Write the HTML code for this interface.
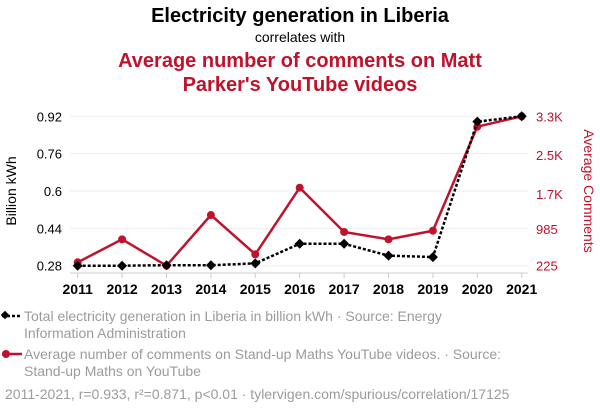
<!DOCTYPE html>
<html><head><meta charset="utf-8"><style>
body{margin:0;background:#fff;width:600px;height:414px;overflow:hidden;font-family:"Liberation Sans",sans-serif}
</style></head><body>
<svg id="chart" width="600" height="414" xmlns="http://www.w3.org/2000/svg" font-family="Liberation Sans, sans-serif">
<text x="300" y="22" text-anchor="middle" font-size="20" font-weight="bold" fill="#000">Electricity generation in Liberia</text>
<text x="300" y="42" text-anchor="middle" font-size="14" fill="#000">correlates with</text>
<text x="300" y="67" text-anchor="middle" font-size="20" font-weight="bold" fill="#c0122c">Average number of comments on Matt</text>
<text x="300" y="91" text-anchor="middle" font-size="20" font-weight="bold" fill="#c0122c">Parker's YouTube videos</text>
<g id="grid"></g><g id="axes"></g><g id="series"></g>
<text transform="translate(16,191) rotate(-90)" text-anchor="middle" font-size="14" fill="#000">Billion kWh</text>
<text transform="translate(584,191) rotate(90)" text-anchor="middle" font-size="14" fill="#c0122c">Average Comments</text>
<g>
<line x1="2" y1="316" x2="22" y2="316" stroke="#000" stroke-width="2.5" stroke-dasharray="3,2"/>
<rect x="2" y="312" width="6" height="6" transform="rotate(45 5 315)" fill="#000"/>
<text x="24" y="321" font-size="14" fill="#9b9b9b">Total electricity generation in Liberia in billion kWh · Source: Energy</text>
<text x="24" y="338" font-size="14" fill="#9b9b9b">Information Administration</text></g>
<g>
<line x1="2" y1="354" x2="22" y2="354" stroke="#c0122c" stroke-width="2.5"/>
<circle cx="6" cy="354" r="4" fill="#c0122c"/>
<text x="24" y="359" font-size="14" fill="#9b9b9b">Average number of comments on Stand-up Maths YouTube videos. · Source:</text>
<text x="24" y="376" font-size="14" fill="#9b9b9b">Stand-up Maths on YouTube</text></g>
<text x="5" y="399" font-size="14" fill="#9b9b9b">2011-2021, r=0.933, r²=0.871, p&lt;0.01 · tylervigen.com/spurious/correlation/17125</text>
</svg>
<script>
const years=[2011,2012,2013,2014,2015,2016,2017,2018,2019,2020,2021];
const electricity=[0.28,0.28,0.282,0.282,0.29,0.374,0.374,0.323,0.317,0.897,0.92];
const comments=[295,768,225,1268,460,1830,919,768,945,3086,3300];
const leftTicks=[0.28,0.44,0.6,0.76,0.92];
const leftTickLabels=["0.28","0.44","0.6","0.76","0.92"];
const rightTicks=[225,985,1700,2500,3300];
const rightTickLabels=["225","985","1.7K","2.5K","3.3K"];
const NS="http://www.w3.org/2000/svg";
const x=y=>77.7+(y-2011)*44.4;
const yl=v=>265.7-(v-0.28)/(0.92-0.28)*149.4;
const yr=v=>265.7-(v-225)/(3300-225)*149.4;
function mk(tag,attrs,parent){const e=document.createElementNS(NS,tag);for(const k in attrs)e.setAttribute(k,attrs[k]);parent.appendChild(e);return e;}
const grid=document.getElementById('grid'),axes=document.getElementById('axes'),ser=document.getElementById('series');
leftTicks.forEach((t,i)=>{
 const g=mk('line',{x1:70,x2:528,y1:yl(t),y2:yl(t),stroke:'#eee','stroke-width':1},grid);
 
 
 const tx=mk('text',{x:62,y:yl(t)+5,'text-anchor':'end','font-size':13,fill:'#000'},axes);
 tx.textContent=leftTickLabels[i];
 
 
});
rightTicks.forEach((t,i)=>{
 const tx=mk('text',{x:536,y:yr(t)+5,'font-size':13,fill:'#c0122c'},axes);
 tx.textContent=rightTickLabels[i];
 
 
});
const ax=mk('line',{x1:70,x2:528,y1:273,y2:273,stroke:'#ccc','stroke-width':1},axes);


years.forEach(yv=>{
 mk('line',{x1:x(yv),x2:x(yv),y1:273,y2:278,stroke:'#ccc'},axes);
 const tx=mk('text',{x:x(yv),y:294,'text-anchor':'middle','font-size':14,'font-weight':'bold',fill:'#000'},axes);
 tx.textContent=yv;
 
 
});
const rl=mk('polyline',{points:years.map((yv,i)=>x(yv)+','+yr(comments[i])).join(' '),fill:'none',stroke:'#c0122c','stroke-width':2.5},ser);


years.forEach((yv,i)=>{
 const c=mk('circle',{cx:x(yv),cy:yr(comments[i]),r:4,fill:'#c0122c'},ser);
 
 
});
const bl=mk('polyline',{points:years.map((yv,i)=>x(yv)+','+yl(electricity[i])).join(' '),fill:'none',stroke:'#000','stroke-width':2.5,'stroke-dasharray':'3,2'},ser);


years.forEach((yv,i)=>{
 const cx=x(yv),cy=yl(electricity[i]);
 const p=mk('polygon',{points:`${cx},${cy-5} ${cx+5},${cy} ${cx},${cy+5} ${cx-5},${cy}`,fill:'#000'},ser);
 
 
});
</script>
</body></html>
